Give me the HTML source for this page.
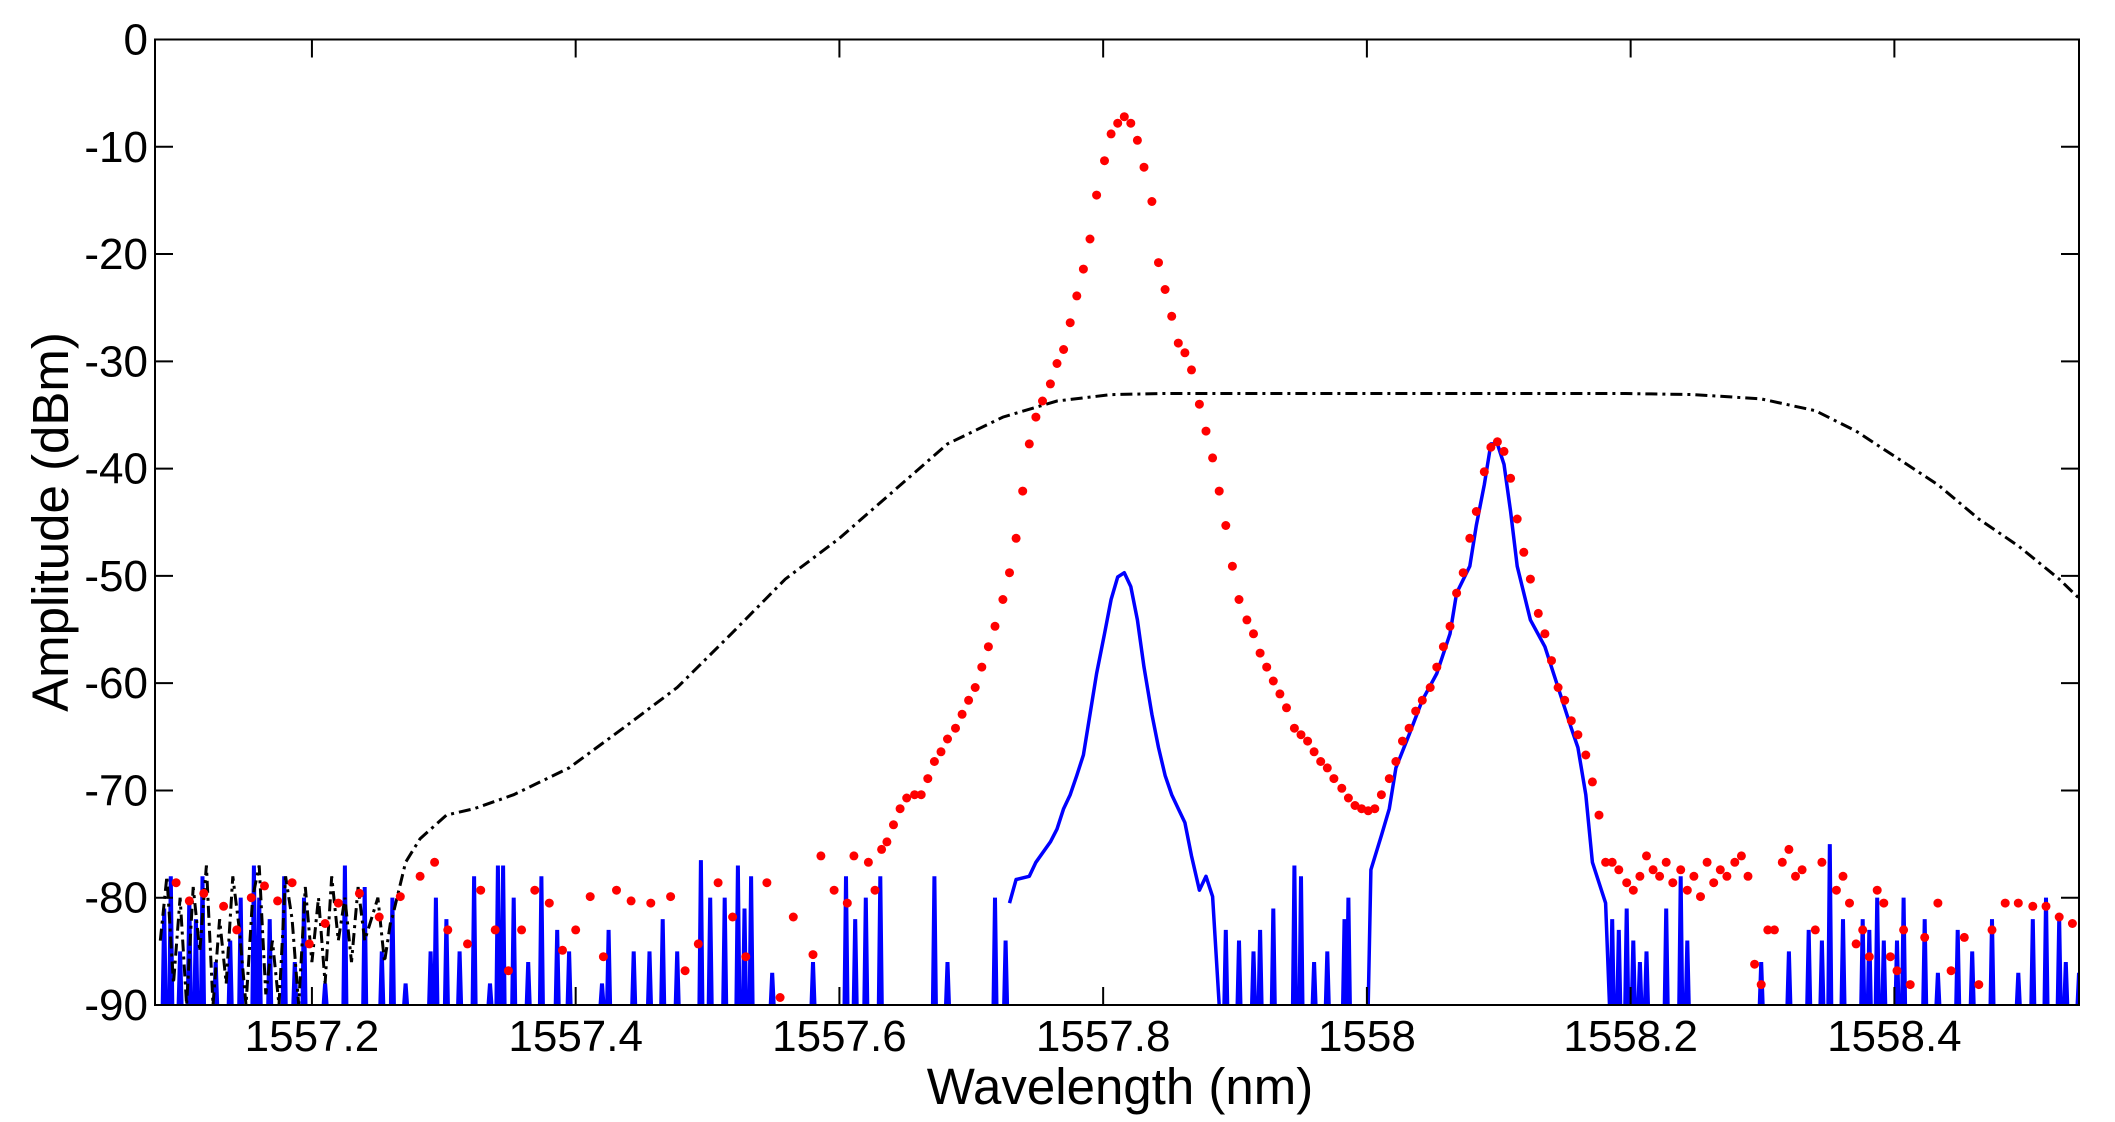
<!DOCTYPE html>
<html><head><meta charset="utf-8"><style>
html,body{margin:0;padding:0;background:#fff;}
svg{display:block;font-family:"Liberation Sans",Arial,sans-serif;}
</style></head><body>
<svg id="chart" width="2115" height="1122" viewBox="0 0 2115 1122" xmlns="http://www.w3.org/2000/svg">
<defs><clipPath id="clip"><rect x="155" y="39.5" width="1924" height="965.5"/></clipPath></defs>
<rect x="0" y="0" width="2115" height="1122" fill="#fff"/>
<g id="series" clip-path="url(#clip)"></g>
<g id="axes"></g>
<text x="1120" y="1104" font-size="51" text-anchor="middle">Wavelength (nm)</text>
<text transform="translate(68,522) rotate(-90)" font-size="51" text-anchor="middle">Amplitude (dBm)</text>
</svg>
<script>
const xTicks=[1557.2,1557.4,1557.6,1557.8,1558,1558.2,1558.4];
const xTickLabels=["1557.2","1557.4","1557.6","1557.8","1558","1558.2","1558.4"];
const yTicks=[0,-10,-20,-30,-40,-50,-60,-70,-80,-90];
const redX=[1557.097,1557.107,1557.118,1557.133,1557.143,1557.154,1557.164,1557.174,1557.185,1557.198,1557.210,1557.220,1557.236,1557.251,1557.267,1557.282,1557.293,1557.303,1557.318,1557.328,1557.339,1557.349,1557.359,1557.369,1557.380,1557.390,1557.400,1557.411,1557.421,1557.431,1557.442,1557.457,1557.472,1557.483,1557.493,1557.508,1557.519,1557.529,1557.545,1557.555,1557.565,1557.580,1557.586,1557.596,1557.606,1557.611,1557.622,1557.627,1557.632,
1557.636,1557.641,1557.646,1557.651,1557.657,1557.662,1557.667,1557.672,1557.677,1557.682,1557.688,1557.693,1557.698,1557.703,1557.708,1557.713,1557.718,1557.724,1557.729,1557.734,1557.739,1557.744,1557.749,1557.754,1557.760,1557.765,1557.770,1557.775,1557.780,1557.785,1557.790,1557.795,1557.801,1557.806,1557.811,1557.816,1557.821,1557.826,1557.831,1557.837,1557.842,1557.847,1557.852,1557.857,1557.862,1557.867,1557.873,1557.878,1557.883,1557.888,1557.893,1557.898,1557.903,1557.909,1557.914,1557.919,1557.924,1557.929,1557.934,1557.939,1557.945,1557.950,1557.955,1557.960,1557.965,1557.970,1557.975,1557.981,1557.986,1557.991,1557.996,1558.001,1558.006,1558.011,1558.017,1558.022,1558.027,1558.032,1558.037,1558.042,1558.048,1558.053,1558.058,1558.063,1558.068,1558.073,1558.078,1558.083,1558.089,1558.094,1558.099,1558.104,1558.109,1558.114,1558.119,1558.124,1558.130,1558.135,1558.140,1558.145,1558.150,1558.155,1558.160,1558.166,1558.171,1558.176,1558.181,
1558.186,1558.191,1558.197,1558.202,1558.207,1558.212,1558.217,1558.222,1558.227,1558.232,1558.238,1558.243,1558.248,1558.253,1558.258,1558.263,1558.268,1558.273,1558.279,1558.284,1558.289,1558.294,1558.299,1558.304,1558.309,1558.315,1558.320,1558.325,1558.330,1558.340,1558.345,1558.356,1558.361,1558.366,1558.371,1558.376,1558.381,1558.387,1558.392,1558.397,1558.402,1558.407,1558.412,1558.423,1558.433,1558.443,1558.453,1558.464,1558.474,1558.484,1558.494,1558.505,1558.515,1558.525,1558.535];
const redY=[-78.6,-80.3,-79.6,-80.8,-83,-80,-78.9,-80.3,-78.6,-84.3,-82.4,-80.5,-79.6,-81.8,-79.9,-78,-76.7,-83,-84.3,-79.3,-83,-86.8,-83,-79.3,-80.5,-84.9,-83,-79.9,-85.5,-79.3,-80.3,-80.5,-79.9,-86.8,-84.3,-78.6,-81.8,-85.5,-78.6,-89.3,-81.8,-85.3,-76.1,-79.3,-80.5,-76.1,-76.7,-79.3,-75.5,
-74.8,-73.2,-71.7,-70.7,-70.4,-70.4,-68.9,-67.3,-66.4,-65.2,-64.2,-62.9,-61.6,-60.4,-58.5,-56.6,-54.7,-52.2,-49.7,-46.5,-42.1,-37.7,-35.2,-33.7,-32.1,-30.2,-28.9,-26.4,-23.9,-21.4,-18.6,-14.5,-11.3,-8.8,-7.8,-7.2,-7.8,-9.4,-11.9,-15.1,-20.8,-23.3,-25.8,-28.3,-29.2,-30.8,-34,-36.5,-39,-42.1,-45.3,-49.1,-52.2,-54.1,-55.4,-57.2,-58.5,-59.8,-61,-62.3,-64.2,-64.8,-65.4,-66.4,-67.3,-67.9,-68.9,-69.8,-70.7,-71.4,-71.7,-71.9,-71.7,-70.4,-68.9,-67.3,-65.4,-64.2,-62.6,-61.6,-60.4,-58.5,-56.6,-54.7,-51.6,-49.7,-46.5,-44,-40.3,-38,-37.5,-38.4,-40.9,-44.7,-47.8,-50.3,-53.5,-55.4,-57.9,-60.4,-61.6,-63.5,-64.8,-66.7,-69.2,-72.3,-76.7,
-76.7,-77.4,-78.6,-79.3,-78,-76.1,-77.4,-78,-76.7,-78.6,-77.4,-79.3,-78,-79.9,-76.7,-78.6,-77.4,-78,-76.7,-76.1,-78,-86.2,-88.1,-83,-83,-76.7,-75.5,-78,-77.4,-83,-76.7,-79.3,-78,-80.5,-84.3,-83,-85.5,-79.3,-80.5,-85.5,-86.8,-83,-88.1,-83.7,-80.5,-86.8,-83.7,-88.1,-83,-80.5,-80.5,-80.8,-80.8,-81.8,-82.4];
const blackNoiseY=[-84,-78,-88,-80,-90,-79,-85,-77,-90,-82,-88,-78,-83,-90,-80,-77,-89,-84,-90,-78,-82,-90,-79,-86,-80,-88,-78,-84,-80,-86,-79,-84,-82,-80,-86,-82];
const blackX=[1557.261,1557.271,1557.282,1557.302,1557.323,1557.353,1557.395,1557.436,1557.477,1557.518,1557.559,1557.600,1557.641,1557.682,1557.724,1557.765,1557.806,1557.847,1557.888,1557.991,1558.094,1558.196,1558.248,1558.299,1558.340,1558.371,1558.402,1558.433,1558.464,1558.494,1558.525,1558.546];
const blackY=[-81.8,-76.7,-74.5,-72.3,-71.7,-70.4,-67.9,-64.2,-60.4,-55.4,-50.3,-46.5,-42.1,-37.7,-35.2,-33.7,-33.1,-33,-33,-33,-33,-33,-33.1,-33.5,-34.6,-36.5,-39,-41.5,-44.7,-47.2,-50.3,-52.8];
const bluePeakX=[1557.729,1557.734,1557.744,1557.749,1557.760,1557.765,1557.770,1557.775,1557.780,1557.785,1557.790,1557.795,1557.801,1557.806,1557.811,1557.816,1557.821,1557.826,1557.831,1557.837,1557.842,1557.847,1557.852,1557.857,1557.862,1557.867,1557.873,1557.878,1557.883,1557.888,
1558.001,1558.003,1558.011,1558.017,1558.022,1558.032,1558.042,1558.053,1558.063,1558.068,1558.078,1558.083,1558.089,1558.094,1558.099,1558.104,1558.109,1558.114,1558.124,1558.135,1558.145,1558.155,1558.160,1558.166,1558.171,1558.176,1558.181,1558.184];
const bluePeakY=[-80.5,-78.3,-78,-76.7,-74.8,-73.6,-71.7,-70.4,-68.6,-66.7,-62.9,-59.1,-55.4,-52.2,-50.1,-49.7,-51,-54.1,-58.5,-62.9,-66,-68.6,-70.4,-71.7,-73,-76.1,-79.3,-78,-79.9,-90,
-90,-77.4,-74.2,-71.7,-67.9,-64.8,-61.6,-59.1,-55.4,-51.6,-49.1,-45.3,-41.5,-37.7,-37.7,-39.6,-44,-49.1,-54.1,-56.6,-60.4,-64.2,-66,-70.4,-76.7,-78.6,-80.5,-90];
const spikeX=[1557.088,1557.093,1557.100,1557.107,1557.112,1557.117,1557.127,1557.138,1557.146,1557.156,1557.160,1557.168,1557.179,1557.187,1557.194,1557.210,1557.225,1557.240,1557.253,1557.261,1557.271,1557.290,1557.294,1557.302,1557.312,1557.323,1557.335,1557.341,1557.345,1557.353,1557.364,1557.374,1557.386,1557.395,1557.420,1557.425,1557.444,1557.456,1557.466,1557.477,1557.495,1557.502,1557.513,1557.523,1557.528,1557.533,1557.549,1557.580,1557.605,1557.612,1557.620,1557.631,1557.672,1557.682,1557.718,1557.726,1557.893,1557.903,1557.914,1557.919,1557.929,1557.945,1557.950,1557.960,1557.970,1557.983,1557.986,
1558.186,1558.191,1558.197,1558.202,1558.207,1558.212,1558.227,1558.238,1558.243,1558.299,1558.320,1558.335,1558.345,1558.351,1558.361,1558.376,1558.381,1558.387,1558.392,1558.402,1558.407,1558.423,1558.433,1558.448,1558.459,1558.474,1558.494,1558.505,1558.515,1558.525,1558.530,1558.540];
const spikeY=[-81,-78,-85,-80,-82,-78,-86,-84,-80,-77,-80,-82,-78,-86,-80,-88,-77,-79,-85,-80,-88,-85,-80,-82,-85,-78,-88,-77,-77,-80,-86,-78,-83,-85,-88,-83,-85,-85,-82,-85,-76.5,-80,-80,-77,-81,-78,-87,-86,-78,-82,-80,-78,-78,-86,-80,-84,-83,-84,-85,-83,-81,-77,-78,-86,-85,-82,-80,
-82,-83,-81,-84,-86,-85,-81,-78,-84,-86,-85,-83,-84,-75,-82,-82,-83,-80,-84,-84,-80,-82,-87,-83,-85,-82,-87,-82,-80,-82,-86,-87];

const X0=155,X1=2079,Y0=39.5,Y1=1005,XMIN=1557.081,XMAX=1558.54,YMIN=-90,YMAX=0;
const sx=v=>X0+(v-XMIN)/(XMAX-XMIN)*(X1-X0);
const sy=v=>Y0+(YMAX-v)/(YMAX-YMIN)*(Y1-Y0);
const NS="http://www.w3.org/2000/svg";
const series=document.getElementById('series'),axes=document.getElementById('axes');
function mk(tag,parent,attrs){const e=document.createElementNS(NS,tag);for(const k in attrs)e.setAttribute(k,attrs[k]);parent.appendChild(e);return e;}

let d='';
spikeX.forEach((x,i)=>{const px=sx(x);d+=`M${(px-1.5).toFixed(1)},${sy(-90)}L${px.toFixed(1)},${sy(spikeY[i]).toFixed(1)}L${(px+1.5).toFixed(1)},${sy(-90)}`;});
const bs=mk('path',series,{d:d,fill:'none',stroke:'#0000ff','stroke-width':4});


let dp='';
bluePeakX.forEach((x,i)=>{dp+=(i===0||i===30?'M':'L')+sx(x).toFixed(1)+','+sy(bluePeakY[i]).toFixed(1);});
const bp=mk('path',series,{d:dp,fill:'none',stroke:'#0000ff','stroke-width':3.5,'stroke-linejoin':'round'});


let db='';
blackNoiseY.forEach((y,i)=>{db+=(i===0?'M':'L')+sx(1557.085+i*0.005).toFixed(1)+','+sy(y).toFixed(1);});
blackX.forEach((x,i)=>{db+='L'+sx(x).toFixed(1)+','+sy(blackY[i]).toFixed(1);});
const bl=mk('path',series,{d:db,fill:'none',stroke:'#000','stroke-width':3,'stroke-dasharray':'12,5,3,5'});


redX.forEach((x,i)=>{const c=mk('circle',series,{cx:sx(x).toFixed(1),cy:sy(redY[i]).toFixed(1),r:4.5,fill:'#ff0000'});

});

const box=mk('rect',axes,{x:X0,y:Y0,width:X1-X0,height:Y1-Y0,fill:'none',stroke:'#000','stroke-width':2});


xTicks.forEach((v,i)=>{const px=sx(v);
mk('line',axes,{x1:px,y1:Y1,x2:px,y2:Y1-18,stroke:'#000','stroke-width':2});
mk('line',axes,{x1:px,y1:Y0,x2:px,y2:Y0+18,stroke:'#000','stroke-width':2});
const t=mk('text',axes,{x:px,y:1051,'font-size':44,'text-anchor':'middle'});t.textContent=xTickLabels[i];

});
yTicks.forEach(v=>{const py=sy(v);
mk('line',axes,{x1:X0,y1:py,x2:X0+18,y2:py,stroke:'#000','stroke-width':2});
mk('line',axes,{x1:X1,y1:py,x2:X1-18,y2:py,stroke:'#000','stroke-width':2});
const t=mk('text',axes,{x:148,y:py+15,'font-size':44,'text-anchor':'end'});t.textContent=String(v);

});
</script>
</body></html>
